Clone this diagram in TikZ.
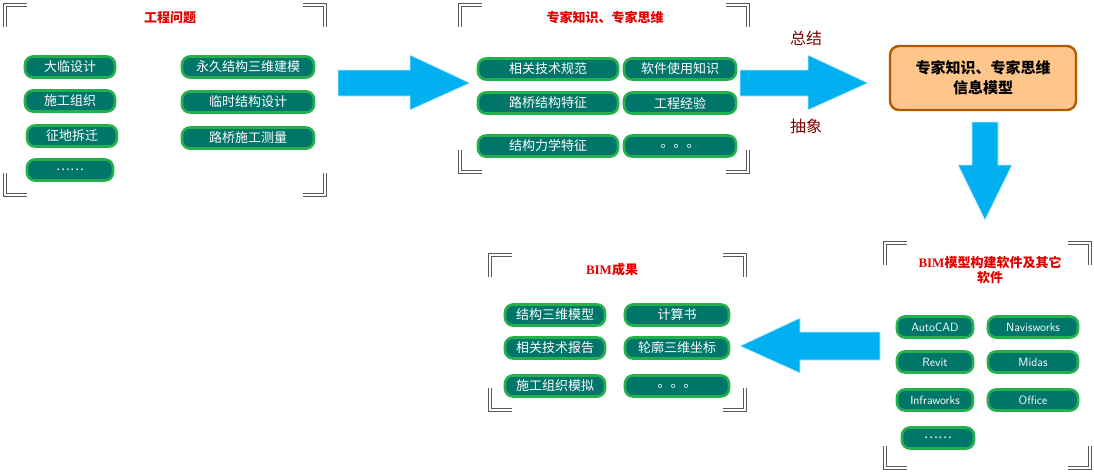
\documentclass[tikz,border=0pt]{standalone}
\usepackage{fontspec}
\setmainfont{Liberation Serif}
\newfontfamily\cjk{Noto Sans CJK SC}
\definecolor{pillfill}{HTML}{00766A}
\definecolor{pillline}{HTML}{22B14C}
\definecolor{arrc}{HTML}{00B0F0}
\newcommand{\mybrk}[4]{%
  \foreach \pp in {{(#1,#2+22) -- (#1,#2) -- (#1+22,#2)},{(#3-22,#2) -- (#3,#2) -- (#3,#2+22)},{(#1,#4-22) -- (#1,#4) -- (#1+22,#4)},{(#3-22,#4) -- (#3,#4) -- (#3,#4-22)}}{%
    \draw[gray!70!black, line width=3.2pt] \pp;
    \draw[white, line width=1.2pt] \pp;}}
\begin{document}
\begin{tikzpicture}[x=1pt,y=-1pt,
  pill/.style={draw=pillline, line width=2.6pt, fill=pillfill, rounded corners=8pt, text=white, font=\cjk\fontsize{13}{15}\selectfont, minimum height=21pt, inner sep=1pt},
  ttl/.style={text=red!90!black, font=\bfseries\fontsize{13}{15}\selectfont},
  lbl/.style={text=red!50!black, font=\cjk\fontsize{16}{18}\selectfont},
  arr/.style={fill=arrc, draw=cyan!25, line width=0.8pt}]
\useasboundingbox (0,0) rectangle (1094,472);
% group 1
\mybrk{5}{5}{325}{195}
\node[ttl] (t1) at (170,18) {\cjk\bfseries 工程问题};
\node[pill, minimum width=90pt] (a1) at (70,67) {大临设计};
\node[pill, minimum width=90pt] (a2) at (70,101) {施工组织};
\node[pill, minimum width=90pt] (a3) at (72,136) {征地拆迁};
\node[pill, minimum width=86pt] (a4) at (70,170) {……};
\node[pill, minimum width=132pt] (a5) at (248,67) {永久结构三维建模};
\node[pill, minimum width=132pt] (a6) at (248,102) {临时结构设计};
\node[pill, minimum width=132pt] (a7) at (248,138) {路桥施工测量};
% arrow 1
\path[arr] (338,70) -- (410,70) -- (410,55) -- (470,83) -- (410,110) -- (410,96) -- (338,96) -- cycle;
% group 2
\mybrk{460}{5}{748}{172}
\node[ttl] (t2) at (605,18) {\cjk\bfseries 专家知识、专家思维};
\node[pill, minimum width=140pt] (b1) at (548,69) {相关技术规范};
\node[pill, minimum width=112pt] (b2) at (680,69) {软件使用知识};
\node[pill, minimum width=140pt] (b3) at (548,103) {路桥结构特征};
\node[pill, minimum width=112pt] (b4) at (680,103) {工程经验};
\node[pill, minimum width=140pt] (b5) at (548,146) {结构力学特征};
\node[pill, minimum width=112pt] (b6) at (680,146) {。。。};
% arrow 2
\path[arr] (740,70) -- (808,70) -- (808,55) -- (868,83) -- (808,110) -- (808,96) -- (740,96) -- cycle;
\node[lbl] (s1) at (806,38) {总结};
\node[lbl] (s2) at (806,126) {抽象};
% model box
\node[draw=orange!70!black, line width=2.4pt, fill=orange!45!white, rounded corners=9pt, minimum width=186pt, minimum height=64pt, align=center, font=\cjk\bfseries\fontsize{15}{20}\selectfont] (m) at (983,78) {专家知识、专家思维\\信息模型};
% down arrow
\path[arr] (972,122) -- (998,122) -- (998,165) -- (1012,165) -- (985,220) -- (958,165) -- (972,165) -- cycle;
% group 4
\mybrk{885}{243}{1090}{468}
\node[ttl, align=center] (t4) at (990,270) {BIM\cjk\bfseries 模型构建软件及其它\\\cjk\bfseries 软件};
\node[pill, minimum width=76pt, font=\sffamily\fontsize{12}{14}\selectfont] (d1) at (935,327) {AutoCAD};
\node[pill, minimum width=90pt, font=\sffamily\fontsize{12}{14}\selectfont] (d2) at (1033,327) {Navisworks};
\node[pill, minimum width=76pt, font=\sffamily\fontsize{12}{14}\selectfont] (d3) at (935,362) {Revit};
\node[pill, minimum width=90pt, font=\sffamily\fontsize{12}{14}\selectfont] (d4) at (1033,362) {Midas};
\node[pill, minimum width=76pt, font=\sffamily\fontsize{12}{14}\selectfont] (d5) at (935,400) {Infraworks};
\node[pill, minimum width=90pt, font=\sffamily\fontsize{12}{14}\selectfont] (d6) at (1033,400) {Office};
\node[pill, minimum width=72pt] (d7) at (938,438) {……};
% left arrow
\path[arr] (880,332) -- (800,332) -- (800,318) -- (740,346) -- (800,373) -- (800,360) -- (880,360) -- cycle;
% group 3
\mybrk{490}{255}{745}{410}
\node[ttl] (t3) at (612,270) {BIM\cjk\bfseries 成果};
\node[pill, minimum width=100pt] (c1) at (555,315) {结构三维模型};
\node[pill, minimum width=104pt] (c2) at (677,315) {计算书};
\node[pill, minimum width=100pt] (c3) at (555,348) {相关技术报告};
\node[pill, minimum width=104pt] (c4) at (677,348) {轮廓三维坐标};
\node[pill, minimum width=100pt] (c5) at (555,386) {施工组织模拟};
\node[pill, minimum width=104pt] (c6) at (677,386) {。。。};
\end{tikzpicture}
\end{document}
